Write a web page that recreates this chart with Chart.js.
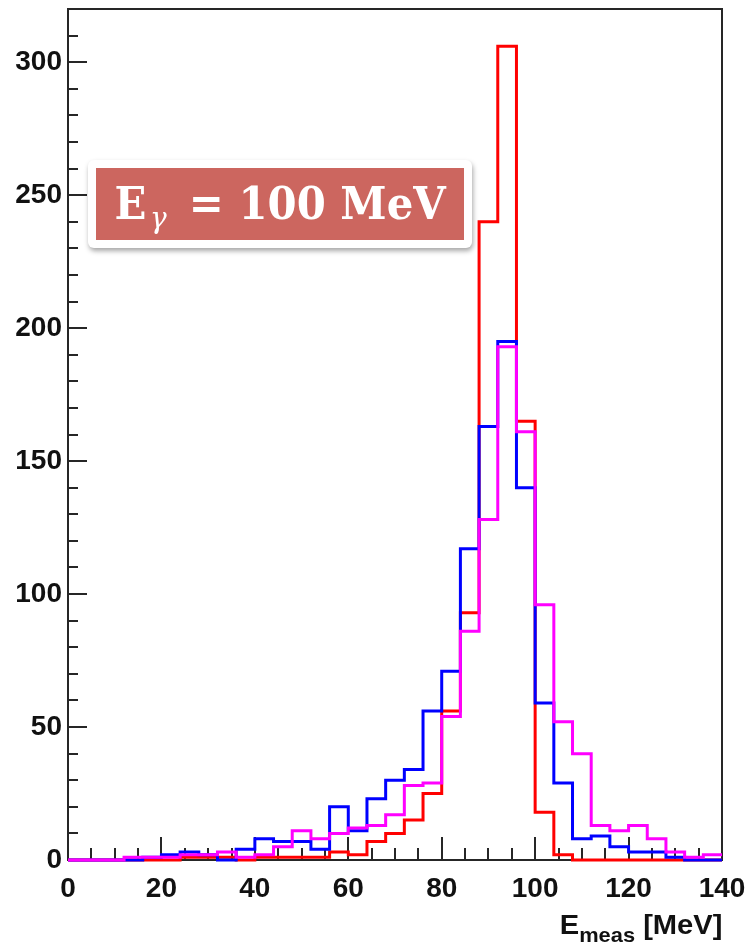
<!DOCTYPE html>
<html>
<head>
<meta charset="utf-8">
<script src="https://cdn.jsdelivr.net/npm/chart.js@4.4.1/dist/chart.umd.min.js"></script>
<style>
html, body { margin: 0; padding: 0; background: #fff; }
#wrap { position: relative; width: 751px; height: 947px; }
#c { position: absolute; left: 0; top: 0; }
.ebox {
  position: absolute; left: 88px; top: 160px; width: 384px; height: 88px;
  background: #fff; border-radius: 6px;
  box-shadow: 1px 3px 5px rgba(0, 0, 0, 0.35);
}
.ebox .inner {
  position: absolute; left: 8px; top: 8px; width: 368px; height: 72px;
  background: #cc665f; color: #fff; text-align: center;
  font-family: 'DejaVu Serif', serif; font-weight: bold; font-size: 45px;
  line-height: 72px; white-space: nowrap; overflow: visible;
}
.ebox .inner span.t { display: inline-block; transform: scaleX(0.93); transform-origin: center; }
.ebox sub { font-style: italic; font-weight: normal; font-size: 30px; vertical-align: -9px; margin: 0 8px 0 4px; }
.xtitle {
  position: absolute; right: 29px; top: 909px; color: #111;
  font-family: 'Liberation Sans', Arial, sans-serif; font-weight: bold; font-size: 28px;
  white-space: nowrap; transform: scaleX(1.04); transform-origin: right center;
}
.xtitle sub { font-size: 21px; vertical-align: -8px; }
</style>
</head>
<body>
<div id="wrap">
  <canvas id="c" width="751" height="947"></canvas>
  <div class="ebox"><div class="inner"><span class="t">E<sub>&gamma;</sub> = 100 MeV</span></div></div>
  <div class="xtitle">E<sub>meas</sub> [MeV]</div>
</div>
<script>
// bin edges of the histogram, 4 MeV wide
var binEdges = [0, 4, 8, 12, 16, 20, 24, 28, 32, 36, 40, 44, 48, 52, 56, 60, 64, 68,
    72, 76, 80, 84, 88, 92, 96, 100, 104, 108, 112, 116, 120, 124, 128, 132, 136, 140];

// counts per bin
var redCounts = [0, 0, 0, 0, 0, 0, 1, 1, 1, 0, 1, 1, 1, 1, 3, 2, 7, 10,
    15, 25, 56, 93, 240, 306, 165, 18, 2, 0, 0, 0, 0, 0, 0, 0, 0];
var blueCounts = [0, 0, 0, 0, 1, 2, 3, 2, 0, 4, 8, 7, 7, 4, 20, 11, 23, 30,
    34, 56, 71, 117, 163, 195, 140, 59, 29, 8, 9, 5, 3, 3, 1, 0, 0];
var magentaCounts = [0, 0, 0, 1, 1, 1, 2, 2, 3, 1, 2, 5, 11, 8, 10, 12, 13, 17,
    28, 29, 54, 86, 128, 193, 161, 96, 52, 40, 13, 11, 13, 8, 3, 1, 2];

var xTicks = [0, 20, 40, 60, 80, 100, 120, 140];
var yTicks = [0, 50, 100, 150, 200, 250, 300];

function histPoints(counts) {
    return binEdges.map(function (x, i) {
        var y = i < counts.length ? counts[i] : counts[counts.length - 1];
        return {x: x, y: y};
    });
}

function histSet(counts, color) {
    return {
        data: histPoints(counts),
        borderColor: color,
        borderWidth: 3,
        pointRadius: 0,
        stepped: 'before',
        fill: false,
        clip: false,
        borderJoinStyle: 'miter'
    };
}

// ROOT style frame with inward ticks
var frame = {
    id: 'frame',
    beforeDatasetsDraw: function (chart) {
        var ctx = chart.ctx,
            a = chart.chartArea,
            xs = chart.scales.x,
            ys = chart.scales.y;
        ctx.save();
        ctx.strokeStyle = '#262626';
        ctx.lineWidth = 2;
        ctx.strokeRect(a.left, a.top, a.right - a.left, a.bottom - a.top);
        ctx.beginPath();
        for (var v = 0; v <= 140; v += 5) {
            var px = Math.round(xs.getPixelForValue(v));
            var len = v % 20 === 0 ? 23 : 12;
            ctx.moveTo(px, a.bottom);
            ctx.lineTo(px, a.bottom - len);
        }
        for (var w = 0; w <= 320; w += 10) {
            var py = Math.round(ys.getPixelForValue(w));
            var len2 = w % 50 === 0 ? 19 : 10;
            ctx.moveTo(a.left, py);
            ctx.lineTo(a.left + len2, py);
        }
        ctx.stroke();
        ctx.restore();
    }
};

var tickFont = {family: "'Liberation Sans', Arial, sans-serif", weight: 'bold', size: 28};

new Chart(document.getElementById('c').getContext('2d'), {
    type: 'line',
    data: {
        datasets: [
            histSet(magentaCounts, '#ff00ff'),
            histSet(blueCounts, '#0000ff'),
            histSet(redCounts, '#ff0000')
        ]
    },
    options: {
        responsive: false,
        animation: false,
        layout: {padding: {left: 0, top: 9, right: 29, bottom: 0}},
        plugins: {legend: {display: false}, tooltip: {enabled: false}},
        scales: {
            x: {
                type: 'linear', min: 0, max: 140,
                grid: {display: false, drawTicks: false, tickLength: 0}, border: {display: false},
                ticks: {color: '#111', font: tickFont, padding: 12, maxRotation: 0, autoSkip: false},
                afterBuildTicks: function (s) { s.ticks = xTicks.map(function (v) { return {value: v}; }); },
                afterFit: function (s) {
                    s.height = 87;
                    s.paddingLeft = 0;
                    s.paddingRight = 0;
                }
            },
            y: {
                type: 'linear', min: 0, max: 320,
                grid: {display: false, drawTicks: false, tickLength: 0}, border: {display: false},
                ticks: {color: '#111', font: tickFont, padding: 6},
                afterBuildTicks: function (s) { s.ticks = yTicks.map(function (v) { return {value: v}; }); },
                afterFit: function (s) {
                    s.width = 68;
                    s.paddingTop = 0;
                    s.paddingBottom = 0;
                }
            }
        }
    },
    plugins: [frame]
});
</script>
</body>
</html>
